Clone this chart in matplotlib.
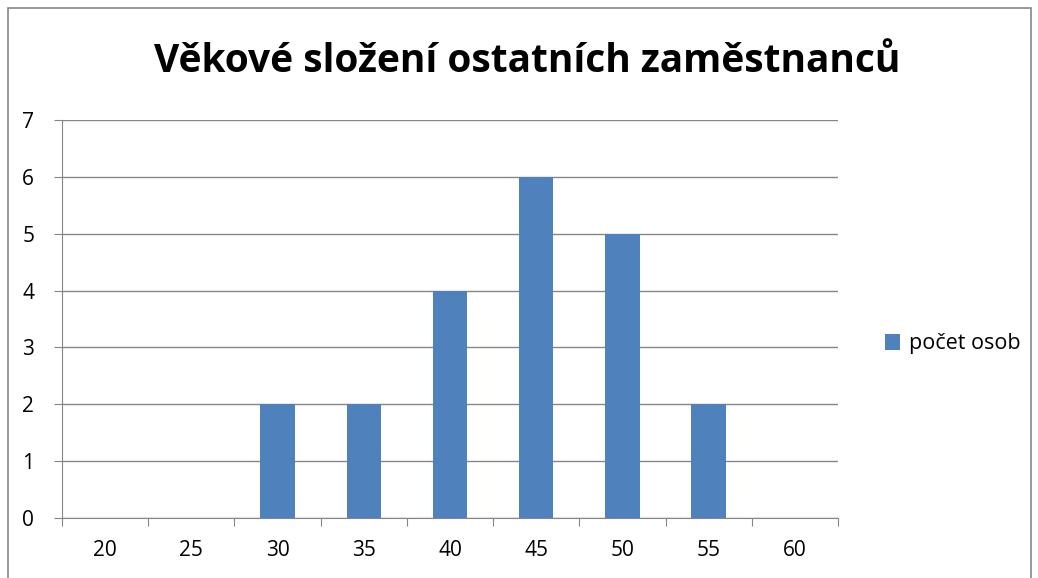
import matplotlib.pyplot as plt
from matplotlib.patches import Rectangle
import numpy as np

plt.rcParams['font.family'] = ['Open Sans', 'DejaVu Sans']

vek = ['20', '25', '30', '35', '40', '45', '50', '55', '60']
pocet = [0, 0, 2, 2, 4, 6, 5, 2, 0]

fig = plt.figure(figsize=(10.38, 5.78), dpi=100)
ax = fig.add_axes([62/1038, 1-518/578, (838-62)/1038, (518-120)/578])

x = np.arange(len(vek))
ax.bar(x, pocet, width=0.4, color='#4F81BD', label='počet osob', zorder=3)

ax.set_xlim(-0.5, len(vek) - 0.5)
ax.set_ylim(0, 7)
ax.set_yticks(range(0, 8))
ax.set_xticks(np.arange(-0.5, len(vek), 1.0))
ax.set_xticklabels([])
ax.set_xticks(x, minor=True)
ax.set_xticklabels(vek, minor=True)
ax.tick_params(axis='x', which='minor', length=0, pad=16, labelsize=15)
ax.tick_params(axis='x', which='major', length=6, color='#868686', direction='out')
ax.tick_params(axis='y', length=6, color='#868686', direction='out', labelsize=15, pad=14)

ax.yaxis.grid(True, color='#868686', linewidth=1, zorder=0)
for s in ['top', 'right']:
    ax.spines[s].set_visible(False)
ax.spines['left'].set_color('#868686')
ax.spines['bottom'].set_color('#868686')

fig.text(527/1038, 1-62/578, 'Věkové složení ostatních zaměstnanců',
         ha='center', va='center', fontsize=28, fontweight='bold')

fig.legend(loc='center left', bbox_to_anchor=(866/1038, 1-344/578), frameon=False,
           fontsize=15.5, handlelength=0.7, handleheight=0.7, handletextpad=0.4)

fig.patches.append(Rectangle((8/1038, -0.05), (1031-8)/1038, 1-8/578+0.05,
                             transform=fig.transFigure, fill=False,
                             edgecolor='#868686', linewidth=1.2))

fig.savefig('out.png', dpi=100)
